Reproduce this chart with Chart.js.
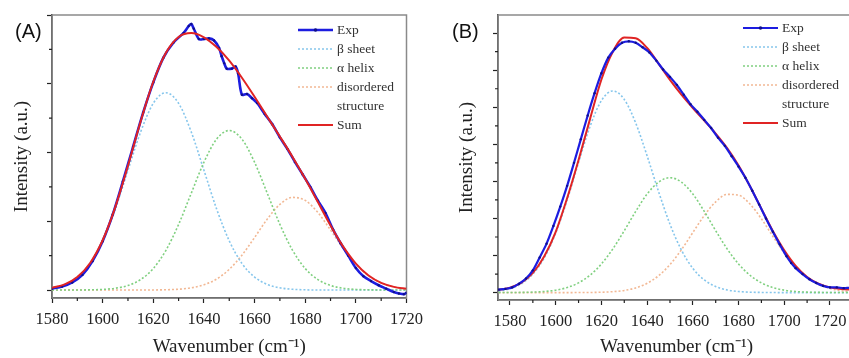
<!DOCTYPE html>
<html>
<head>
<meta charset="utf-8">
<script src="https://cdn.jsdelivr.net/npm/chart.js@4.4.1/dist/chart.umd.min.js"></script>
<style>
  html, body { margin: 0; padding: 0; background: #fff; overflow: hidden; }
  #wrap { position: relative; width: 849px; height: 358px; overflow: hidden; }
  .panel { position: absolute; top: 0; height: 358px; }
  #panelA { left: 0; width: 430px; }
  #panelB { left: 430px; width: 450px; }
  .tag { position: absolute; top: 20px; font-family: "Liberation Sans", Arial, sans-serif; font-size: 20px; color: #111; }
</style>
</head>
<body>
<div id="wrap">
  <div class="panel" id="panelA"><canvas id="chartA" width="430" height="358"></canvas></div>
  <div class="panel" id="panelB"><canvas id="chartB" width="450" height="358"></canvas></div>
  <div class="tag" style="left:15px">(A)</div>
  <div class="tag" style="left:452px">(B)</div>
</div>
<script>
// ---- panel (A) ----
var xTicksA = [1580, 1600, 1620, 1640, 1660, 1680, 1700, 1720];
var yTicksA = [0, 1, 2, 3, 4];

var wnA = [1580, 1585, 1590, 1595, 1600, 1605, 1610, 1615, 1620, 1625, 1630, 1635, 1640, 1645, 1650,
           1655, 1660, 1665, 1670, 1675, 1680, 1685, 1690, 1695, 1700, 1705, 1710, 1715, 1720];
var betaA  = [0.032, 0.082, 0.189, 0.387, 0.715, 1.18, 1.742, 2.299, 2.715, 2.87, 2.715, 2.299, 1.742, 1.18, 0.715,
              0.387, 0.189, 0.082, 0.032, 0.011, 0.003, 0, 0, 0, 0, 0, 0, 0, 0];
var alphaA = [0, 0, 0, 0.003, 0.009, 0.026, 0.066, 0.152, 0.313, 0.578, 0.954, 1.408, 1.858, 2.195, 2.32,
              2.195, 1.858, 1.408, 0.954, 0.578, 0.313, 0.152, 0.066, 0.026, 0.009, 0.003, 0.001, 0, 0];
var disA   = [0, 0, 0, 0, 0, 0, 0, 0.001, 0.001, 0.004, 0.012, 0.032, 0.076, 0.159, 0.301,
              0.506, 0.764, 1.031, 1.246, 1.347, 1.303, 1.127, 0.873, 0.605, 0.375, 0.208, 0.103, 0.046, 0.018];
var sumA   = [0.032, 0.082, 0.189, 0.390, 0.724, 1.206, 1.808, 2.452, 3.029, 3.452, 3.681, 3.739, 3.676, 3.534, 3.336,
              3.088, 2.811, 2.521, 2.232, 1.936, 1.619, 1.279, 0.939, 0.631, 0.384, 0.211, 0.104, 0.046, 0.018];

var expWnA = [1580, 1584, 1588, 1592, 1596, 1600, 1604, 1608, 1612, 1616, 1620, 1624, 1628, 1632, 1634,
              1635, 1636, 1638, 1640, 1642, 1644, 1646, 1647, 1648, 1649, 1651, 1652.5, 1653.5, 1655, 1657,
              1659, 1661, 1664, 1667, 1670, 1673, 1676, 1679, 1682, 1685, 1688, 1691, 1694, 1697, 1700,
              1703, 1706, 1709, 1712, 1715, 1717, 1719, 1720];
var expA   = [0.02, 0.05, 0.11, 0.22, 0.42, 0.71, 1.10, 1.58, 2.08, 2.58, 3.02, 3.38, 3.60, 3.74, 3.84,
              3.87, 3.80, 3.65, 3.65, 3.66, 3.63, 3.52, 3.40, 3.30, 3.22, 3.22, 3.25, 3.15, 2.84, 2.85,
              2.79, 2.72, 2.56, 2.41, 2.22, 2.05, 1.86, 1.68, 1.50, 1.30, 1.12, 0.88, 0.68, 0.50, 0.32,
              0.20, 0.13, 0.07, 0.02, -0.03, -0.05, -0.06, -0.04];

// ---- panel (B) ----
var xTicksB = [1580, 1600, 1620, 1640, 1660, 1680, 1700, 1720];
var yTicksB = [0, 1, 2, 3, 4, 5, 6, 7];

var wnB = [1575, 1580, 1585, 1590, 1595, 1600, 1605, 1610, 1615, 1620, 1625, 1630, 1635, 1640, 1645, 1650,
           1655, 1660, 1665, 1670, 1675, 1680, 1685, 1690, 1695, 1700, 1705, 1710, 1715, 1720, 1725, 1730];
var betaB  = [0.041, 0.104, 0.239, 0.497, 0.937, 1.605, 2.49, 3.51, 4.48, 5.18, 5.44, 5.212, 4.575, 3.688, 2.725, 1.844,
              1.148, 0.653, 0.342, 0.164, 0.072, 0.029, 0.011, 0.004, 0.001, 0, 0, 0, 0, 0, 0, 0];
var alphaB = [0.001, 0.002, 0.005, 0.012, 0.029, 0.065, 0.136, 0.263, 0.468, 0.772, 1.18, 1.67, 2.19, 2.66, 2.98, 3.10,
              2.98, 2.66, 2.19, 1.67, 1.18, 0.772, 0.468, 0.263, 0.136, 0.065, 0.029, 0.012, 0.005, 0.002, 0.001, 0];
var disB   = [0, 0, 0, 0, 0, 0, 0, 0.001, 0.003, 0.010, 0.025, 0.058, 0.126, 0.25, 0.454, 0.757,
              1.156, 1.62, 2.08, 2.45, 2.65, 2.63, 2.39, 1.99, 1.52, 1.07, 0.688, 0.406, 0.22, 0.109, 0.05, 0.021];
var sumB   = [0.07, 0.13, 0.27, 0.53, 0.98, 1.64, 2.55, 3.58, 4.68, 5.75, 6.50, 6.88, 6.86, 6.60, 6.18, 5.74,
              5.34, 4.98, 4.64, 4.29, 3.90, 3.43, 2.87, 2.26, 1.66, 1.14, 0.72, 0.42, 0.24, 0.14, 0.10, 0.08];

var expWnB = [1575, 1578, 1581, 1584, 1587, 1590, 1593, 1596, 1599, 1602, 1605, 1608, 1611, 1614, 1617,
              1620, 1623, 1626, 1629, 1632, 1635, 1638, 1641, 1644, 1647, 1650, 1653, 1656, 1659, 1662,
              1665, 1668, 1671, 1674, 1677, 1680, 1683, 1686, 1689, 1692, 1695, 1698, 1701, 1703, 1705,
              1708, 1711, 1714, 1717, 1720, 1723, 1726, 1729, 1731];
var expB   = [0.08, 0.10, 0.14, 0.24, 0.38, 0.60, 0.95, 1.32, 1.80, 2.32, 2.88, 3.50, 4.14, 4.78, 5.38,
              5.92, 6.34, 6.58, 6.74, 6.78, 6.74, 6.62, 6.48, 6.26, 6.02, 5.82, 5.60, 5.34, 5.08, 4.88,
              4.66, 4.44, 4.18, 3.96, 3.68, 3.40, 3.10, 2.75, 2.38, 2.00, 1.64, 1.30, 0.98, 0.80, 0.66,
              0.50, 0.36, 0.26, 0.18, 0.14, 0.14, 0.12, 0.13, 0.12];

var serif = '"Liberation Serif", "Times New Roman", serif';

function pts(xs, ys) {
  return xs.map(function(x, i) { return { x: x, y: ys[i] }; });
}

// gray frame around the plot area
var frame = {
  id: 'frame',
  beforeDatasetsDraw: function(chart) {
    var a = chart.chartArea, ctx = chart.ctx;
    ctx.save();
    ctx.strokeStyle = '#8a8a8a';
    ctx.lineWidth = 1.5;
    ctx.strokeRect(a.left, a.top, a.right - a.left, a.bottom - a.top);
    ctx.restore();
  }
};

// minor ticks half way between the major ones
var minorTicks = {
  id: 'minorTicks',
  afterDraw: function(chart) {
    var ctx = chart.ctx, a = chart.chartArea;
    var xs = chart.scales.x, ys = chart.scales.y;
    ctx.save();
    ctx.strokeStyle = '#222';
    ctx.lineWidth = 1.2;
    ctx.beginPath();
    var xt = xs.ticks.map(function(t) { return t.value; });
    for (var i = 0; i < xt.length - 1; i++) {
      var px = xs.getPixelForValue((xt[i] + xt[i + 1]) / 2);
      ctx.moveTo(px, a.bottom); ctx.lineTo(px, a.bottom + 3);
    }
    var yt = ys.ticks.map(function(t) { return t.value; });
    for (var j = 0; j < yt.length - 1; j++) {
      var py = ys.getPixelForValue((yt[j] + yt[j + 1]) / 2);
      ctx.moveTo(a.left, py); ctx.lineTo(a.left - 3, py);
    }
    ctx.stroke();
    ctx.restore();
  }
};

// legend box in the upper right corner, with a two line entry
var legendBox = {
  id: 'legendBox',
  afterDraw: function(chart, args, opts) {
    var ctx = chart.ctx;
    var y = opts.top;
    ctx.save();
    ctx.font = '13.5px ' + serif;
    ctx.textBaseline = 'middle';
    chart.data.datasets.forEach(function(ds) {
      var lines = ds.label.split('\n');
      ctx.beginPath();
      ctx.strokeStyle = ds.borderColor;
      ctx.lineWidth = ds.borderWidth;
      ctx.setLineDash(ds.borderDash || []);
      ctx.moveTo(opts.left, y);
      ctx.lineTo(opts.left + 35, y);
      ctx.stroke();
      ctx.setLineDash([]);
      if (ds.pointRadius) {
        ctx.beginPath();
        ctx.fillStyle = ds.pointBackgroundColor;
        ctx.arc(opts.left + 17.5, y, 1.8, 0, Math.PI * 2);
        ctx.fill();
      }
      ctx.fillStyle = '#333';
      lines.forEach(function(t, k) { ctx.fillText(t, opts.left + 39, y + k * 19); });
      y += lines.length * 19;
    });
    ctx.restore();
  }
};

function makeChart(id, d, ax) {
  var ctx = document.getElementById(id).getContext('2d');
  return new Chart(ctx, {
    type: 'line',
    data: {
      datasets: [
        { label: 'Exp', data: pts(d.expWn, d.exp), borderColor: '#1c1ce0', borderWidth: d.expWidth,
          pointRadius: 1.2, pointBackgroundColor: '#10108a', pointBorderWidth: 0, tension: 0.3, order: d.expOrder },
        { label: '\u03b2 sheet', data: pts(d.wn, d.beta), borderColor: '#86c6ec', borderWidth: 1.6,
          borderDash: [2, 2], pointRadius: 0, cubicInterpolationMode: 'monotone', order: 4 },
        { label: '\u03b1 helix', data: pts(d.wn, d.alpha), borderColor: '#80d080', borderWidth: 1.6,
          borderDash: [2, 2], pointRadius: 0, cubicInterpolationMode: 'monotone', order: 3 },
        { label: 'disordered\nstructure', data: pts(d.wn, d.dis), borderColor: '#f2b894', borderWidth: 1.6,
          borderDash: [2, 2], pointRadius: 0, cubicInterpolationMode: 'monotone', order: 5 },
        { label: 'Sum', data: pts(d.wn, d.sum), borderColor: '#e02424', borderWidth: 2,
          pointRadius: 0, cubicInterpolationMode: 'monotone', order: d.sumOrder }
      ]
    },
    plugins: [frame, minorTicks, legendBox],
    options: {
      responsive: false,
      animation: false,
      layout: { padding: { top: 15, right: ax.padRight, left: 0, bottom: 0 } },
      plugins: {
        legend: { display: false },
        tooltip: { enabled: false },
        legendBox: { left: ax.legLeft, top: ax.legTop }
      },
      scales: {
        x: {
          type: 'linear',
          min: ax.xMin,
          max: ax.xMax,
          afterBuildTicks: function(scale) { scale.ticks = ax.xTicks.map(function(v) { return { value: v }; }); },
          afterFit: function(scale) { scale.height = ax.xHeight; },
          grid: { drawOnChartArea: false, drawTicks: true, tickLength: 5, tickColor: '#222', tickWidth: 1.2 },
          border: { color: '#222', width: 1.6 },
          ticks: { color: '#222', padding: 7, maxRotation: 0, font: { family: serif, size: 16.5 },
                   callback: function(v) { return String(v); } },
          title: { display: true, text: 'Wavenumber (cm\u207B\u00B9)', color: '#222',
                   padding: { top: 0, bottom: 0 }, font: { family: serif, size: 19 } }
        },
        y: {
          min: ax.yMin,
          max: ax.yMax,
          afterBuildTicks: function(scale) { scale.ticks = ax.yTicks.map(function(v) { return { value: v }; }); },
          afterFit: function(scale) { scale.width = ax.yWidth; },
          grid: { drawOnChartArea: false, drawTicks: true, tickLength: 5, tickColor: '#222', tickWidth: 1.2 },
          border: { color: '#222', width: 1.6 },
          ticks: { display: false },
          title: { display: true, text: 'Intensity (a.u.)', color: '#222',
                   padding: { top: ax.titlePad, bottom: 0 }, font: { family: serif, size: 19 } }
        }
      }
    }
  });
}

makeChart('chartA',
  { wn: wnA, beta: betaA, alpha: alphaA, dis: disA, sum: sumA, expWn: expWnA, exp: expA,
    expOrder: 2, sumOrder: 1, expWidth: 2.6 },
  { xMin: 1580, xMax: 1720, yMin: -0.116, yMax: 4, xTicks: xTicksA, yTicks: yTicksA,
    xHeight: 60, yWidth: 52, padRight: 22, titlePad: 11, legLeft: 298, legTop: 30 });

makeChart('chartB',
  { wn: wnB, beta: betaB, alpha: alphaB, dis: disB, sum: sumB, expWn: expWnB, exp: expB,
    expOrder: 1, sumOrder: 2, expWidth: 2.2 },
  { xMin: 1574.75, xMax: 1730.95, yMin: -0.2, yMax: 7.49, xTicks: xTicksB, yTicks: yTicksB,
    xHeight: 58, yWidth: 68, padRight: 25, titlePad: 26, legLeft: 313, legTop: 28 });
</script>
</body>
</html>
